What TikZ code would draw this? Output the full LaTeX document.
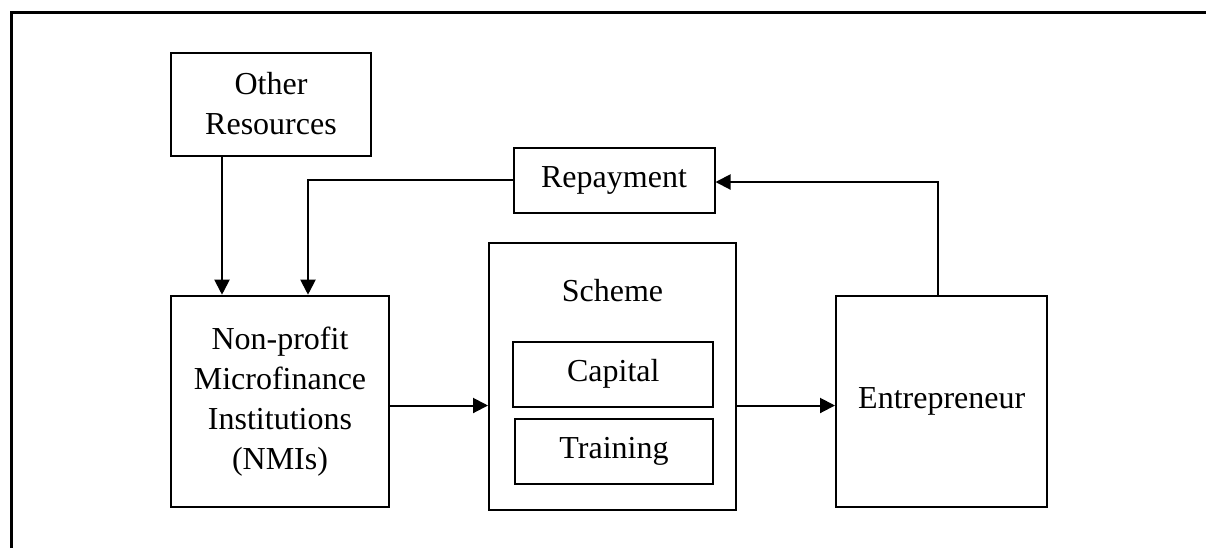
\documentclass[tikz,border=0pt]{standalone}
\usepackage{fontspec}
\setmainfont{Liberation Serif}
\usetikzlibrary{arrows.meta}
\tikzset{
  box/.style={draw,line width=1pt,align=center,inner sep=0pt,
    font=\fontsize{16pt}{20pt}\selectfont},
  arr/.style={line width=1pt,-{Triangle[length=7.5pt,width=7.5pt]}},
  frame/.style={line width=1.3pt}
}
\begin{document}
\begin{tikzpicture}[x=0.5pt,y=-0.5pt]
          \useasboundingbox (0,0) rectangle (1206,548);
          \draw[frame] (11.5,548) |- (1206,12.5);

          \node[box,minimum width=100pt,minimum height=51.5pt] (other) at (271,104) {Other\\Resources};
          \node[box,minimum width=109pt,minimum height=105.8pt] (nmi) at (280,401.5) {Non-profit\\Microfinance\\Institutions\\(NMIs)};
          \node[box,minimum width=100.5pt,minimum height=32.5pt] (repay) at (614,180) {Repayment};
          \node[box,minimum width=123.5pt,minimum height=133.6pt] (scheme) at (612.5,376.3) {};
          \node[font=\fontsize{16pt}{20pt}\selectfont] (schemetitle) at (612.5,291) {Scheme};
          \node[box,minimum width=100pt,minimum height=32.5pt] (capital) at (613.3,374) {Capital};
          \node[box,minimum width=99pt,minimum height=32.5pt] (training) at (614,451) {Training};
          \node[box,minimum width=105.7pt,minimum height=105.8pt] (entre) at (941.7,401.5) {Entrepreneur};

          \draw[arr] ([xshift=-24.5pt]other.south) -- ([xshift=-24.5pt]other.south |- nmi.north);
          \draw[arr] (repay.west) -| ([xshift=14pt]nmi.north);
          \draw[arr] ([yshift=-2pt]nmi.east) -- ([yshift=-2pt]nmi.east -| scheme.west);
          \draw[arr] ([yshift=-2pt]entre.west -| scheme.east) -- ([yshift=-2pt]entre.west);
          \draw[arr] ([xshift=-2pt]entre.north) |- ([yshift=-1pt]repay.east);
        \end{tikzpicture}
\end{document}
